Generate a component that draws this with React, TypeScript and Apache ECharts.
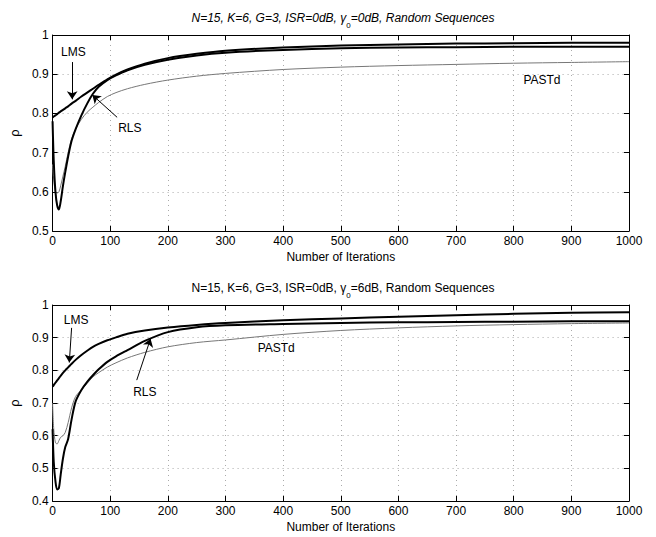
import React, { useEffect, useRef } from "react";
import * as echarts from "echarts";

const iterations = [0, 2, 5, 8, 11, 14, 18, 22, 27, 33, 40, 50, 60, 70, 80, 95, 110, 130, 160, 200, 250, 300, 400, 500, 600, 700, 800, 900, 1000];

// Top panel (gamma0 = 0dB)
const lmsTop = [0.79, 0.792, 0.795, 0.798, 0.802, 0.805, 0.809, 0.813, 0.818, 0.825, 0.832, 0.843, 0.853, 0.863, 0.873, 0.887, 0.899, 0.912, 0.927, 0.941, 0.952, 0.96, 0.968, 0.973, 0.976, 0.978, 0.979, 0.98, 0.98];
const rlsTop = [0.78, 0.68, 0.6, 0.565, 0.555, 0.575, 0.615, 0.65, 0.69, 0.73, 0.76, 0.795, 0.825, 0.85, 0.868, 0.885, 0.897, 0.91, 0.924, 0.937, 0.948, 0.955, 0.962, 0.966, 0.968, 0.969, 0.97, 0.97, 0.97];
const pastdTop = [0.67, 0.63, 0.6, 0.597, 0.6, 0.615, 0.64, 0.665, 0.7, 0.735, 0.76, 0.785, 0.803, 0.816, 0.828, 0.843, 0.853, 0.863, 0.874, 0.885, 0.895, 0.902, 0.912, 0.918, 0.922, 0.925, 0.928, 0.93, 0.932];

// Bottom panel (gamma0 = 6dB)
const lmsBottom = [0.75, 0.755, 0.762, 0.769, 0.776, 0.783, 0.792, 0.8, 0.809, 0.82, 0.832, 0.847, 0.86, 0.872, 0.881, 0.892, 0.901, 0.912, 0.922, 0.931, 0.939, 0.945, 0.953, 0.959, 0.964, 0.969, 0.973, 0.976, 0.978];
const rlsBottom = [0.62, 0.52, 0.46, 0.435, 0.44, 0.48, 0.53, 0.565, 0.59, 0.65, 0.705, 0.74, 0.765, 0.785, 0.803, 0.826, 0.843, 0.862, 0.89, 0.917, 0.932, 0.938, 0.942, 0.945, 0.947, 0.948, 0.949, 0.95, 0.95];
const pastdBottom = [0.7, 0.62, 0.578, 0.575, 0.585, 0.595, 0.6, 0.61, 0.64, 0.685, 0.72, 0.74, 0.76, 0.78, 0.793, 0.81, 0.823, 0.838, 0.855, 0.872, 0.885, 0.893, 0.91, 0.922, 0.93, 0.936, 0.94, 0.943, 0.945];

const xTicks = { min: 0, max: 1000, interval: 100 };
const yTopTicks = { min: 0.5, max: 1, interval: 0.1 };
const yBottomTicks = { min: 0.4, max: 1, interval: 0.1 };

const titleTop = "N=15, K=6, G=3, ISR=0dB, γ";
const titleTopEnd = "=0dB, Random Sequences";
const titleBottom = "N=15, K=6, G=3, ISR=0dB, γ";
const titleBottomEnd = "=6dB, Random Sequences";

const FONT = "Liberation Sans, Arial, Helvetica, sans-serif";

function pairs(xs: number[], ys: number[]) {
  return xs.map((x, i) => [x, ys[i]]);
}

function label(text: string, coord: number[]) {
  return {
    coord,
    symbol: "circle",
    symbolSize: 1,
    itemStyle: { color: "rgba(0,0,0,0)" },
    label: { show: true, formatter: text, position: "inside", color: "#000", fontSize: 12, fontFamily: FONT },
  };
}

function arrow(from: number[], to: number[]) {
  return [{ coord: from }, { coord: to }];
}

export default function App() {
  const ref = useRef<HTMLDivElement>(null);
  useEffect(() => {
    document.body.style.margin = "0";
    if (!ref.current) return;
    const chart = echarts.init(ref.current, null, { renderer: "svg" });

    const mainX = (gridIndex: number) => ({
      type: "value",
      gridIndex,
      ...xTicks,
      position: "bottom",
      name: "Number of Iterations",
      nameLocation: "middle",
      nameGap: 20,
      nameTextStyle: { color: "#000", fontSize: 12, fontFamily: FONT },
      axisLine: { show: true, onZero: false, lineStyle: { color: "#000", width: 1 } },
      axisTick: { show: true, inside: true, length: 5, lineStyle: { color: "#000" } },
      axisLabel: { color: "#000", fontSize: 12, fontFamily: FONT, margin: 4, formatter: (v: number) => String(v) },
      splitLine: { show: true, lineStyle: { color: "#aaa", type: [1, 4], width: 1 } },
    });
    const mirrorX = (gridIndex: number) => ({
      type: "value",
      gridIndex,
      ...xTicks,
      position: "top",
      axisLine: { show: true, onZero: false, lineStyle: { color: "#000", width: 1 } },
      axisTick: { show: true, inside: true, length: 5, lineStyle: { color: "#000" } },
      axisLabel: { show: false },
      splitLine: { show: false },
    });
    const mainY = (gridIndex: number, ticks: any) => ({
      type: "value",
      gridIndex,
      ...ticks,
      position: "left",
      name: "ρ",
      nameLocation: "middle",
      nameGap: 22,
      nameTextStyle: { color: "#000", fontSize: 13, fontFamily: FONT },
      axisLine: { show: true, onZero: false, lineStyle: { color: "#000", width: 1 } },
      axisTick: { show: true, inside: true, length: 5, lineStyle: { color: "#000" } },
      axisLabel: { color: "#000", fontSize: 12, fontFamily: FONT, margin: 4 },
      splitLine: { show: true, lineStyle: { color: "#aaa", type: [1, 4], width: 1 } },
    });
    const mirrorY = (gridIndex: number, ticks: any) => ({
      type: "value",
      gridIndex,
      ...ticks,
      position: "right",
      axisLine: { show: true, onZero: false, lineStyle: { color: "#000", width: 1 } },
      axisTick: { show: true, inside: true, length: 5, lineStyle: { color: "#000" } },
      axisLabel: { show: false },
      splitLine: { show: false },
    });

    const thick = { color: "#000", width: 2 };
    const thin = { color: "#777", width: 1 };
    const arrowLine = (data: any[]) => ({
      silent: true,
      symbol: ["none", "arrow"],
      symbolSize: 8,
      lineStyle: { color: "#000", width: 1, type: "solid" },
      itemStyle: { color: "#000" },
      label: { show: false },
      emphasis: { disabled: true },
      data,
    });

    const rich = (italic: boolean) => ({
      a: { fontSize: 12, fontWeight: "normal", fontFamily: FONT, color: "#000", fontStyle: italic ? "italic" : "normal", verticalAlign: "middle", lineHeight: 16 },
      s: { fontSize: 8, fontWeight: "normal", fontFamily: FONT, color: "#000", verticalAlign: "bottom", lineHeight: 12, padding: [0, 0, -3, 0] },
    });

    chart.setOption({
      animation: false,
      backgroundColor: "#fff",
      title: [
        {
          text: `{a|${titleTop}}{s|0}{a|${titleTopEnd}}`,
          left: 338,
          top: 5,
          textAlign: "center",
          textStyle: { fontWeight: "normal", rich: rich(true) },
        },
        {
          text: `{a|${titleBottom}}{s|0}{a|${titleBottomEnd}}`,
          left: 338,
          top: 275,
          textAlign: "center",
          textStyle: { fontWeight: "normal", rich: rich(false) },
        },
      ],
      grid: [
        { left: 47, top: 35, width: 582, height: 196 },
        { left: 47, top: 305, width: 582, height: 196 },
      ],
      xAxis: [mainX(0), mirrorX(0), mainX(1), mirrorX(1)],
      yAxis: [mainY(0, yTopTicks), mirrorY(0, yTopTicks), mainY(1, yBottomTicks), mirrorY(1, yBottomTicks)],
      series: [
        {
          name: "PASTd",
          type: "line",
          xAxisIndex: 0,
          yAxisIndex: 0,
          data: pairs(iterations, pastdTop),
          showSymbol: false,
          smooth: 0.3,
          lineStyle: thin,
          markPoint: { silent: true, data: [label("PASTd", [849, 0.885])] },
        },
        {
          name: "RLS",
          type: "line",
          xAxisIndex: 0,
          yAxisIndex: 0,
          data: pairs(iterations, rlsTop),
          showSymbol: false,
          smooth: 0.3,
          lineStyle: thick,
          markPoint: { silent: true, data: [label("RLS", [134, 0.763])] },
          markLine: arrowLine([arrow([112, 0.79], [69, 0.847])]),
        },
        {
          name: "LMS",
          type: "line",
          xAxisIndex: 0,
          yAxisIndex: 0,
          data: pairs(iterations, lmsTop),
          showSymbol: false,
          smooth: 0.3,
          lineStyle: thick,
          markPoint: { silent: true, data: [label("LMS", [36, 0.957])] },
          markLine: arrowLine([arrow([34, 0.931], [34, 0.836])]),
        },
        {
          name: "PASTd6",
          type: "line",
          xAxisIndex: 2,
          yAxisIndex: 2,
          data: pairs(iterations, pastdBottom),
          showSymbol: false,
          smooth: 0.3,
          lineStyle: thin,
          markPoint: { silent: true, data: [label("PASTd", [388, 0.868])] },
        },
        {
          name: "RLS6",
          type: "line",
          xAxisIndex: 2,
          yAxisIndex: 2,
          data: pairs(iterations, rlsBottom),
          showSymbol: false,
          smooth: 0.3,
          lineStyle: thick,
          markPoint: { silent: true, data: [label("RLS", [160, 0.734])] },
          markLine: arrowLine([arrow([146, 0.77], [170, 0.897])]),
        },
        {
          name: "LMS6",
          type: "line",
          xAxisIndex: 2,
          yAxisIndex: 2,
          data: pairs(iterations, lmsBottom),
          showSymbol: false,
          smooth: 0.3,
          lineStyle: thick,
          markPoint: { silent: true, data: [label("LMS", [41, 0.954])] },
          markLine: arrowLine([arrow([33, 0.93], [29, 0.824])]),
        },
      ],
    });
    return () => chart.dispose();
  }, []);
  return <div ref={ref} style={{ width: 656, height: 537 }} />;
}
